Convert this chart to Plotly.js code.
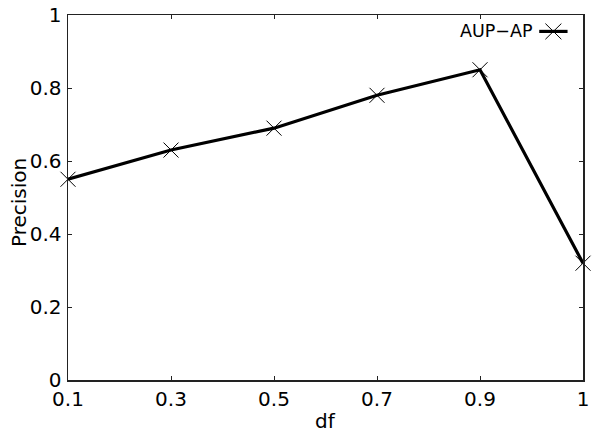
<!DOCTYPE html>
<html>
<head>
<meta charset="utf-8">
<script src="https://cdn.plot.ly/plotly-3.0.1.min.js"></script>
<style>
  html, body { margin: 0; padding: 0; background: #fff; }
  #chart { width: 596px; height: 437px; }
</style>
</head>
<body>
<div id="chart"></div>
<script>
// Precision of AUP-AP for each df setting
const dfLabels = ["0.1", "0.3", "0.5", "0.7", "0.9", "1"];
const precision = [0.55, 0.63, 0.69, 0.78, 0.85, 0.32];
const seriesName = "AUP\u2212AP";
const yTickVals = [0, 0.2, 0.4, 0.6, 0.8, 1];
const yTickText = ["0", "0.2", "0.4", "0.6", "0.8", "1"];

const font = "DejaVu Sans, sans-serif";
const axisColor = "#222";

const trace = {
  x: dfLabels,
  y: precision,
  type: "scatter",
  mode: "lines+markers",
  name: seriesName,
  line: { color: "#000", width: 3.2 },
  marker: { symbol: "x-thin-open", size: 15, color: "#000", line: { color: "#000", width: 1 } },
  cliponaxis: false,
  showlegend: false
};

const axisCommon = {
  showline: true,
  linecolor: axisColor,
  linewidth: 1.5,
  mirror: "ticks",
  ticks: "inside",
  ticklen: 4,
  tickwidth: 1,
  tickcolor: axisColor,
  showgrid: false,
  zeroline: false,
  tickfont: { family: font, size: 20, color: "#000" }
};

// Legend sample: label on the left, line with marker on the right
const legY = 0.955;
const legX0 = 0.915, legX1 = 0.97, legXm = (legX0 + legX1) / 2;
const mx = 0.0155, my = 0.0215;

const layout = {
  width: 596,
  height: 437,
  margin: { l: 68, r: 13, t: 15, b: 57 },
  paper_bgcolor: "#fff",
  plot_bgcolor: "#fff",
  font: { family: font, color: "#000" },
  xaxis: Object.assign({}, axisCommon, {
    type: "category",
    range: [0, dfLabels.length - 1],
    ticklabelstandoff: 0
  }),
  yaxis: Object.assign({}, axisCommon, {
    range: [0, 1],
    tickvals: yTickVals,
    ticktext: yTickText,
    ticklabelstandoff: 1
  }),
  annotations: [
    { text: "df", xref: "paper", yref: "paper", x: 0.5, y: -0.075, yanchor: "top",
      showarrow: false, font: { family: font, size: 20, color: "#000" } },
    { text: "Precision", xref: "paper", yref: "paper", x: -0.095, y: 0.485, textangle: -90,
      xanchor: "center", yanchor: "middle",
      showarrow: false, font: { family: font, size: 20, color: "#000" } },
    { text: seriesName, xref: "paper", yref: "paper", x: 0.907, y: legY, xanchor: "right", yanchor: "middle",
      showarrow: false, font: { family: font, size: 17.5, color: "#000" } }
  ],
  shapes: [
    { type: "line", xref: "paper", yref: "paper", x0: legX0, x1: legX1, y0: legY, y1: legY,
      line: { color: "#000", width: 3.2 } },
    { type: "line", xref: "paper", yref: "paper", x0: legXm - mx, x1: legXm + mx, y0: legY - my, y1: legY + my,
      line: { color: "#000", width: 1 } },
    { type: "line", xref: "paper", yref: "paper", x0: legXm - mx, x1: legXm + mx, y0: legY + my, y1: legY - my,
      line: { color: "#000", width: 1 } }
  ],
  showlegend: false
};

Plotly.newPlot("chart", [trace], layout, { displayModeBar: false, staticPlot: true });
</script>
</body>
</html>
